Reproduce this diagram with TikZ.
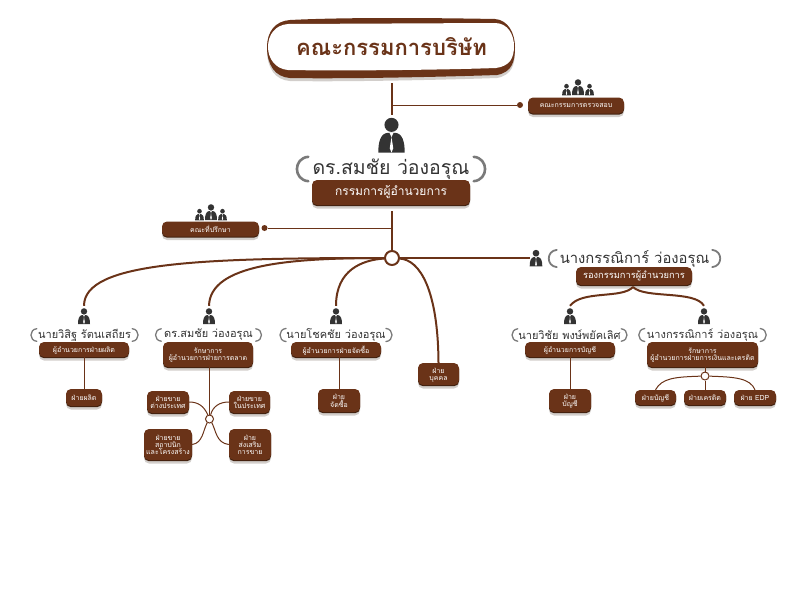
\documentclass[tikz,border=0pt]{standalone}
\usepackage{fontspec}
\setmainfont[Script=Thai]{Loma}
\usetikzlibrary{shadows}

\definecolor{brownbox}{HTML}{6A3318}
\definecolor{brownedge}{HTML}{40200E}
\definecolor{shadegray}{HTML}{D2CECB}
\definecolor{inkgray}{HTML}{333333}
\definecolor{bracketgray}{HTML}{7A7A7A}

\newcommand{\fs}[1]{\fontsize{#1}{#1}\selectfont}

\tikzset{
    unitbox/.style={rectangle, rounded corners=5pt, fill=brownbox, text=white, align=center, inner sep=0pt,
        general shadow={fill=shadegray, shadow yshift=-3.5pt},
        general shadow={fill=brownedge, shadow yshift=-1.2pt}},
    small/.style={font=\fs{7}, text depth=0pt},
    namelabel/.style={inner sep=0pt, text=inkgray, font=\fs{11},
        append after command={
            (\tikzlastnode.north west) edge[bracket, line width=#1, bend right=85, looseness=1.6] (\tikzlastnode.south west)
            (\tikzlastnode.north east) edge[bracket, line width=#1, bend left=85, looseness=1.6] (\tikzlastnode.south east)}},
    namelabel/.default=1.3pt,
    bracket/.style={draw=bracketgray, line cap=round},
    trunk/.style={draw=brownbox, line width=2pt},
    twig/.style={draw=brownbox, line width=1pt},
    hubdot/.style={circle, draw=brownbox, fill=white, inner sep=0pt},
    enddot/.style={circle, fill=brownbox, inner sep=0pt, minimum size=6pt},
    personmark/.style={inner sep=0pt, minimum width=12pt, minimum height=20pt},
    person/.pic={
        \fill[inkgray] (0,-4.6) circle[radius=3.2];
        \fill[inkgray] (-6,8) .. controls (-6,3) and (-5,-0.6) .. (-1.8,-1) -- (1.8,-1)
            .. controls (5,-0.6) and (6,3) .. (6,8) -- cycle;
        \fill[white] (-0.9,-1) -- (0,1) -- (0.9,-1) -- cycle;
        \fill[white] (0,1) -- (-0.8,6) -- (0,8) -- (0.8,6) -- cycle;
    },
    trio/.pic={
        \pic[scale=0.72] at (-11.5,2.5) {person};
        \pic[scale=0.72] at (11.5,2.5) {person};
        \pic at (0,0) {person};
    }
}

\begin{document}
\begin{tikzpicture}[x=1pt, y=-1pt]
    \useasboundingbox (0,0) rectangle (800,600);

    \fill[shadegray] (290,24) .. controls (350,20) and (440,21) .. (495,22) .. controls (508,23) and (515,36) .. (515,50)
        .. controls (515,65) and (512,75) .. (497,78) .. controls (440,80) and (340,82) .. (290,81)
        .. controls (275,80) and (267,68) .. (267,50) .. controls (267,35) and (275,25) .. (290,24) -- cycle;
    \fill[brownbox] (290,20) .. controls (350,17) and (440,18) .. (495,19) .. controls (508,20) and (515,33) .. (515,47)
        .. controls (515,62) and (512,72) .. (497,75) .. controls (440,77) and (340,79) .. (290,78)
        .. controls (275,77) and (267,65) .. (267,47) .. controls (267,32) and (275,21) .. (290,20) -- cycle;
    \fill[white] (288,24) -- (495,23) .. controls (508,23) and (514,35) .. (514,46)
        .. controls (514,58) and (510,66) .. (496,68) .. controls (440,70) and (340,71) .. (288,70)
        .. controls (275,69) and (268,58) .. (268,47) .. controls (268,35) and (275,25) .. (288,24) -- cycle;
    \node[inner sep=0pt, minimum width=248pt, minimum height=72pt, text=brownbox, font=\fs{22}\bfseries] (board) at (391.5,47) {คณะกรรมการบริษัท};

    \node[personmark, minimum width=24pt, minimum height=40pt] (ceoman) at (391.5,135) {};
    \pic[scale=2.2] at (ceoman) {person};
    \node[namelabel=2.6pt, font=\fs{19.5}, minimum width=165pt, minimum height=24pt] (ceoname) at (391,169) {ดร.สมชัย ว่องอรุณ};
    \node[unitbox, minimum width=158pt, minimum height=25pt, font=\fs{12}] (ceobox) at (391,192.5) {กรรมการผู้อำนวยการ};

    \coordinate (audittap) at (391.5,105);
    \node[enddot] (auditdot) at (520,105) {};
    \node[unitbox, small, minimum width=96pt, minimum height=16pt] (auditbox) at (576,105.5) {คณะกรรมการตรวจสอบ};
    \pic at (578,87) {trio};
    \draw[trunk] (board.south) -- (ceoman.north);
    \draw[twig] (audittap) -- (auditdot);

    \node[hubdot, line width=2pt, minimum size=14pt] (hub) at (392,258) {};
    \coordinate (ceobottom) at (392,211);
    \coordinate (counseltap) at (392,228);
    \node[enddot] (counseldot) at (264.5,228) {};
    \node[unitbox, small, minimum width=97pt, minimum height=15pt] (counselbox) at (210.5,229) {คณะที่ปรึกษา};
    \pic at (211,212) {trio};
    \draw[trunk] (ceobottom) -- (hub);
    \draw[twig] (counseltap) -- (counseldot);

    \node[personmark, minimum height=16pt] (deputyman) at (536,258) {};
    \pic[scale=1.05] at (deputyman) {person};
    \node[namelabel=1.8pt, font=\fs{14.8}, minimum width=155pt, minimum height=15pt] (deputyname) at (634.5,258.5) {นางกรรณิการ์ ว่องอรุณ};
    \node[unitbox, minimum width=116pt, minimum height=18pt, font=\fs{9.3}] (deputybox) at (634,276) {รองกรรมการผู้อำนวยการ};
    \draw[trunk] (hub) -- (deputyman);

    \node[personmark] (prodman) at (84,316) {};
    \pic at (prodman) {person};
    \node[namelabel, minimum width=95pt, minimum height=12pt] (prodname) at (84.5,335) {นายวิสิฐ รัตนเสถียร};
    \node[unitbox, small, minimum width=90pt, minimum height=15pt] (prodbox) at (84,349.5) {ผู้อำนวยการฝ่ายผลิต};
    \node[unitbox, small, minimum width=36pt, minimum height=17pt] (produnit) at (84,397.5) {ฝ่ายผลิต};
    \draw[twig] (prodbox) -- (produnit);

    \node[personmark] (mktman) at (209,316) {};
    \pic at (mktman) {person};
    \node[namelabel, minimum width=94pt, minimum height=12pt] (mktname) at (208.5,335) {ดร.สมชัย ว่องอรุณ};
    \node[unitbox, small, minimum width=90pt, minimum height=25pt] (mktbox) at (208,354.5) {รักษาการ\\ผู้อำนวยการฝ่ายการตลาด};
    \node[hubdot, line width=1pt, minimum size=8pt] (mkthub) at (209.5,419) {};
    \node[unitbox, small, minimum width=42pt, minimum height=22pt] (salesabroad) at (168,402) {ฝ่ายขาย\\ต่างประเทศ};
    \node[unitbox, small, minimum width=41pt, minimum height=22pt] (saleshome) at (249.5,402) {ฝ่ายขาย\\ในประเทศ};
    \node[unitbox, small, minimum width=48pt, minimum height=31pt] (salesarch) at (168,444.5) {ฝ่ายขาย\\สถาปนิก\\และโครงสร้าง};
    \node[unitbox, small, minimum width=42pt, minimum height=31pt] (salespromo) at (250,444.5) {ฝ่าย\\ส่งเสริม\\การขาย};
    \draw[twig] (mktbox.south -| mkthub) -- (mkthub);
    \draw[twig] (salesabroad.east) .. controls (198,402) and (204,406) .. (mkthub);
    \draw[twig] (saleshome.west) .. controls (220,402) and (213,406) .. (mkthub);
    \draw[twig] (salesarch.east) .. controls (203,443) and (203,430) .. (mkthub);
    \draw[twig] (salespromo.west) .. controls (216,443) and (216,430) .. (mkthub);

    \node[personmark] (buyman) at (336,316) {};
    \pic at (buyman) {person};
    \node[namelabel, minimum width=98pt, minimum height=12pt] (buyname) at (336,335) {นายโชคชัย ว่องอรุณ};
    \node[unitbox, small, minimum width=90pt, minimum height=15pt] (buybox) at (336,349.5) {ผู้อำนวยการฝ่ายจัดซื้อ};
    \node[unitbox, small, minimum width=42pt, minimum height=23pt] (buyunit) at (339,400.5) {ฝ่าย\\จัดซื้อ};
    \draw[twig] (buybox.south -| buyunit) -- (buyunit);

    \node[unitbox, small, minimum width=41pt, minimum height=22pt] (hrunit) at (438.5,374) {ฝ่าย\\บุคคล};

    \draw[trunk] (hub) .. controls (200,258) and (84,262) .. (prodman.north);
    \draw[trunk] (hub) .. controls (290,258) and (210,264) .. (mktman.north);
    \draw[trunk] (hub) .. controls (362,260) and (336,270) .. (buyman.north);
    \draw[trunk] (hub) .. controls (420,260) and (438,290) .. (hrunit.north);

    \node[personmark] (acctman) at (570,316) {};
    \pic at (acctman) {person};
    \node[namelabel, minimum width=103pt, minimum height=12pt] (acctname) at (569.5,335) {นายวิชัย พงษ์พยัคเลิศ};
    \node[unitbox, small, minimum width=90pt, minimum height=15pt] (acctbox) at (570,349.5) {ผู้อำนวยการบัญชี};
    \node[unitbox, small, minimum width=42pt, minimum height=23pt] (acctunit) at (570,400.5) {ฝ่าย\\บัญชี};
    \draw[twig] (acctbox) -- (acctunit);

    \node[personmark] (finman) at (704,316) {};
    \pic at (finman) {person};
    \node[namelabel, minimum width=115pt, minimum height=12pt] (finname) at (702.5,335) {นางกรรณิการ์ ว่องอรุณ};
    \node[unitbox, small, minimum width=111pt, minimum height=25pt] (finbox) at (702.5,354.5) {รักษาการ\\ผู้อำนวยการฝ่ายการเงินและเครดิต};
    \node[hubdot, line width=1pt, minimum size=8pt] (finhub) at (705,376) {};
    \node[unitbox, small, minimum width=41pt, minimum height=15pt] (ledger) at (655.5,397.5) {ฝ่ายบัญชี};
    \node[unitbox, small, minimum width=42pt, minimum height=15pt] (credit) at (705,397.5) {ฝ่ายเครดิต};
    \node[unitbox, small, minimum width=42pt, minimum height=15pt] (edp) at (755,397.5) {ฝ่าย EDP};
    \draw[twig] (finbox.south -| finhub) -- (finhub);
    \draw[twig] (finhub) -- (credit);
    \draw[twig] (finhub) .. controls (675,377) and (662,378) .. (ledger.north);
    \draw[twig] (finhub) .. controls (735,377) and (750,378) .. (edp.north);

    \coordinate (deputydrop) at (633,287);
    \draw[trunk] (deputydrop) .. controls (622,299) and (582,290) .. (acctman.north);
    \draw[trunk] (deputydrop) .. controls (645,299) and (695,290) .. (finman.north);
\end{tikzpicture}
\end{document}
